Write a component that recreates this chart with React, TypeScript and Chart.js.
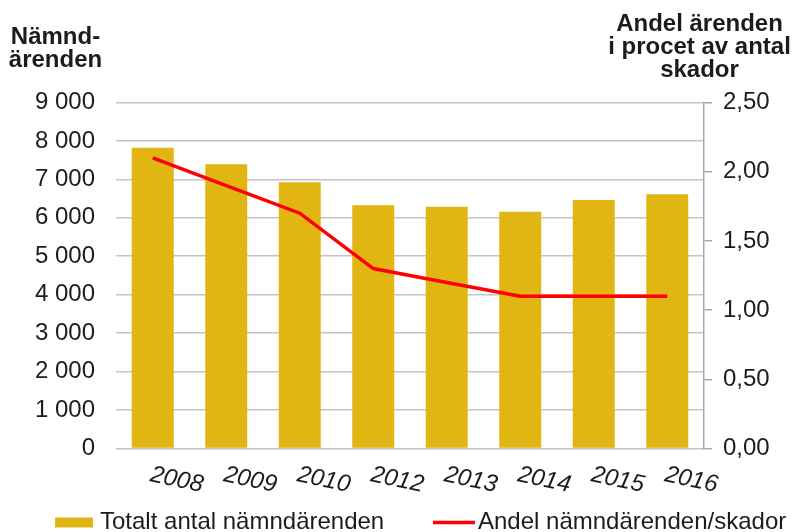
import { useEffect, useRef } from 'react';
import { Chart, registerables } from 'chart.js';

Chart.register(...registerables);

const years = ['2008', '2009', '2010', '2012', '2013', '2014', '2015', '2016'];
const totalCases = [7825, 7393, 6925, 6327, 6290, 6160, 6465, 6613];
const sharePercent = [2.1, 1.9, 1.7, 1.3, 1.2, 1.1, 1.1, 1.1];
const leftTitle = ['Nämnd-', 'ärenden'];
const rightTitle = ['Andel ärenden', 'i procet av antal', 'skador'];
const barLabel = 'Totalt antal nämndärenden';
const lineLabel = 'Andel nämndärenden/skador';

const FAMILY = '"Liberation Sans", Arial, Helvetica, sans-serif';
const TEXT = '#1c1c1c';
const BAR = '#E1B512';
const LINE = '#FF0000';
const GRID = '#c4c4c4';

const overlay = {
  id: 'overlay',
  afterDraw(chart: any) {
    const ctx = chart.ctx as CanvasRenderingContext2D;
    const xs = chart.scales.x;
    ctx.save();
    ctx.fillStyle = TEXT;

    // rotated, italic category labels
    ctx.font = `italic 24px ${FAMILY}`;
    ctx.textAlign = 'center';
    ctx.textBaseline = 'middle';
    (chart.data.labels as string[]).forEach((lab, i) => {
      const x = xs.getPixelForValue(i) + 24;
      ctx.save();
      ctx.translate(x, 480);
      ctx.rotate((12 * Math.PI) / 180);
      ctx.fillText(lab, 0, 0);
      ctx.restore();
    });

    // axis titles
    ctx.font = `bold 24px ${FAMILY}`;
    ctx.textBaseline = 'alphabetic';
    leftTitle.forEach((t, i) => ctx.fillText(t, 55.5, 43.5 + i * 23));
    rightTitle.forEach((t, i) => ctx.fillText(t, 699.5, 31 + i * 23));

    // legend
    const ds = chart.data.datasets;
    ctx.font = `24px ${FAMILY}`;
    ctx.textAlign = 'left';
    ctx.fillStyle = ds[0].backgroundColor;
    ctx.fillRect(55, 517.5, 38, 10);
    ctx.fillStyle = TEXT;
    ctx.fillText(ds[0].label, 100, 529);
    ctx.strokeStyle = ds[1].borderColor;
    ctx.lineWidth = 3.5;
    ctx.beginPath();
    ctx.moveTo(433, 522.5);
    ctx.lineTo(475, 522.5);
    ctx.stroke();
    ctx.fillText(ds[1].label, 478, 529);
    ctx.restore();
  },
};

export default function App() {
  const ref = useRef<HTMLCanvasElement | null>(null);

  useEffect(() => {
    if (!ref.current) return;
    Chart.defaults.font.family = FAMILY;
    Chart.defaults.font.size = 24;
    Chart.defaults.color = TEXT;

    const chart = new Chart(ref.current, {
      type: 'bar',
      data: {
        labels: years,
        datasets: [
          {
            type: 'bar',
            label: barLabel,
            data: totalCases,
            backgroundColor: BAR,
            borderWidth: 0,
            barPercentage: 0.571,
            categoryPercentage: 1,
            yAxisID: 'y',
            order: 2,
          },
          {
            type: 'line',
            label: lineLabel,
            data: sharePercent,
            borderColor: LINE,
            backgroundColor: LINE,
            borderWidth: 3.5,
            pointRadius: 0,
            tension: 0,
            fill: false,
            yAxisID: 'y1',
            order: 1,
          },
        ] as any,
      },
      options: {
        animation: false,
        responsive: false,
        devicePixelRatio: 1,
        layout: { padding: { top: 102.5, left: 0, right: 0, bottom: 0 } },
        plugins: {
          legend: { display: false },
          tooltip: { enabled: false },
          title: { display: false },
        },
        scales: {
          x: {
            type: 'category',
            offset: true,
            grid: { display: false, drawTicks: false },
            border: { display: false },
            ticks: { display: false },
            afterFit: (s: any) => {
              s.height = 83.5;
            },
          },
          y: {
            type: 'linear',
            position: 'left',
            min: 0,
            max: 9000,
            ticks: {
              stepSize: 1000,
              padding: 21,
              color: TEXT,
              font: { size: 24 },
              callback: (v: any) => {
                const n = Number(v);
                if (n === 0) return '0';
                const th = Math.floor(n / 1000);
                const rest = String(n % 1000).padStart(3, '0');
                return `${th} ${rest}`;
              },
            },
            grid: { color: GRID, lineWidth: 1.6, drawTicks: false },
            border: { display: false },
            afterFit: (s: any) => {
              s.width = 116;
            },
          },
          y1: {
            type: 'linear',
            position: 'right',
            min: 0,
            max: 2.5,
            ticks: {
              stepSize: 0.5,
              padding: 11,
              color: TEXT,
              font: { size: 24 },
              callback: (v: any) => Number(v).toFixed(2).replace('.', ','),
            },
            grid: {
              drawOnChartArea: false,
              drawTicks: true,
              tickLength: 8,
              color: '#a8a8a8',
              lineWidth: 1.5,
            },
            border: { display: true, color: '#a8a8a8', width: 1.5 },
            afterFit: (s: any) => {
              s.width = 89;
            },
          },
        },
      } as any,
      plugins: [overlay],
    });

    return () => chart.destroy();
  }, []);

  return (
    <div style={{ position: 'absolute', left: 0, top: 0, width: 793, height: 532, background: '#fff' }}>
      <canvas ref={ref} width={793} height={532} style={{ display: 'block', width: 793, height: 532 }} />
    </div>
  );
}
